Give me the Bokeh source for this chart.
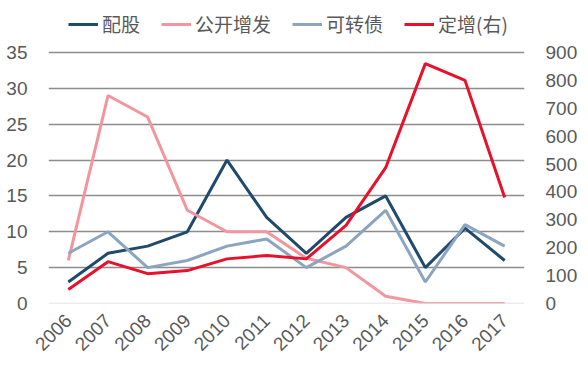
from bokeh.plotting import figure
from bokeh.models import (Range1d, LinearAxis, FixedTicker, Legend, LegendItem,
                          Span, ColumnDataSource)
from bokeh.embed import file_html
from bokeh.resources import INLINE
import math

years = ["2006", "2007", "2008", "2009", "2010", "2011", "2012", "2013",
         "2014", "2015", "2016", "2017"]
peigu = [3, 7, 8, 10, 20, 12, 7, 12, 15, 5, 10.5, 6]
gongkai = [6, 29, 26, 13, 10, 10, 6.3, 5, 1, 0, 0, 0]
kezhuanzhai = [7, 10, 5, 6, 8, 9, 5, 8, 13, 3, 11, 8]
dingzeng = [50, 150, 107, 118, 160, 172, 160, 280, 487, 860, 800, 380]

left_ticks = [0, 5, 10, 15, 20, 25, 30, 35]
right_ticks = [0, 100, 200, 300, 400, 500, 600, 700, 800, 900]

# layout: axis 0..35 spans 251px; frame extends 52px above so the legend sits inside it
AXIS_PX, TOP_PX = 251, 52
stretch = (AXIS_PX + TOP_PX) / AXIS_PX
left_max = 35 * stretch
right_max = 900 * stretch

src = ColumnDataSource(dict(x=years, a=peigu, b=gongkai, c=kezhuanzhai, d=dingzeng))

p = figure(width=580, height=360, x_range=years, y_range=Range1d(0, left_max),
           output_backend="svg", toolbar_location=None,
           min_border_left=48, min_border_right=53, min_border_top=0,
           min_border_bottom=57)
p.extra_y_ranges = {"r": Range1d(0, right_max)}
p.outline_line_color = None

FONT = "Liberation Sans"
TXT = "#595959"

# grid
p.xgrid.grid_line_color = None
p.ygrid.ticker = FixedTicker(ticks=left_ticks[1:])
p.ygrid.grid_line_color = "#8c8c8c"
p.ygrid.grid_line_width = 1.3
p.add_layout(Span(location=0, dimension="width", line_color="#d9d9d9", line_width=1.3))

# axes
p.yaxis.ticker = FixedTicker(ticks=left_ticks)
for ax in [p.yaxis[0], p.xaxis[0]]:
    ax.axis_line_color = None
    ax.major_tick_line_color = None
    ax.minor_tick_line_color = None
    ax.major_label_text_font = FONT
    ax.major_label_text_font_size = "19px"
    ax.major_label_text_color = TXT
p.yaxis.major_label_standoff = 15
p.xaxis.major_label_orientation = math.pi / 4
p.xaxis.major_label_standoff = 8

rax = LinearAxis(y_range_name="r", ticker=FixedTicker(ticks=right_ticks))
rax.axis_line_color = None
rax.major_tick_line_color = None
rax.minor_tick_line_color = None
rax.major_label_text_font = FONT
rax.major_label_text_font_size = "19px"
rax.major_label_text_color = TXT
rax.major_label_standoff = 15
p.add_layout(rax, "right")

r1 = p.line("x", "a", source=src, line_color="#1f4a6b", line_width=3)
r2 = p.line("x", "b", source=src, line_color="#f2959e", line_width=3)
r3 = p.line("x", "c", source=src, line_color="#8ba5c1", line_width=3)
r4 = p.line("x", "d", source=src, line_color="#e8102a", line_width=3, y_range_name="r")

legend = Legend(items=[LegendItem(label="配股", renderers=[r1]),
                       LegendItem(label="公开增发", renderers=[r2]),
                       LegendItem(label="可转债", renderers=[r3]),
                       LegendItem(label="定增(右)", renderers=[r4])],
                orientation="horizontal", location=(20, 266),
                border_line_color=None, background_fill_alpha=0,
                label_text_font="Noto Sans CJK SC", label_text_font_size="19px",
                label_text_color=TXT, glyph_width=30, glyph_height=16,
                spacing=21, label_standoff=4, padding=4, margin=0)
p.add_layout(legend, "center")

open("out.html", "w").write(file_html(p, INLINE))
